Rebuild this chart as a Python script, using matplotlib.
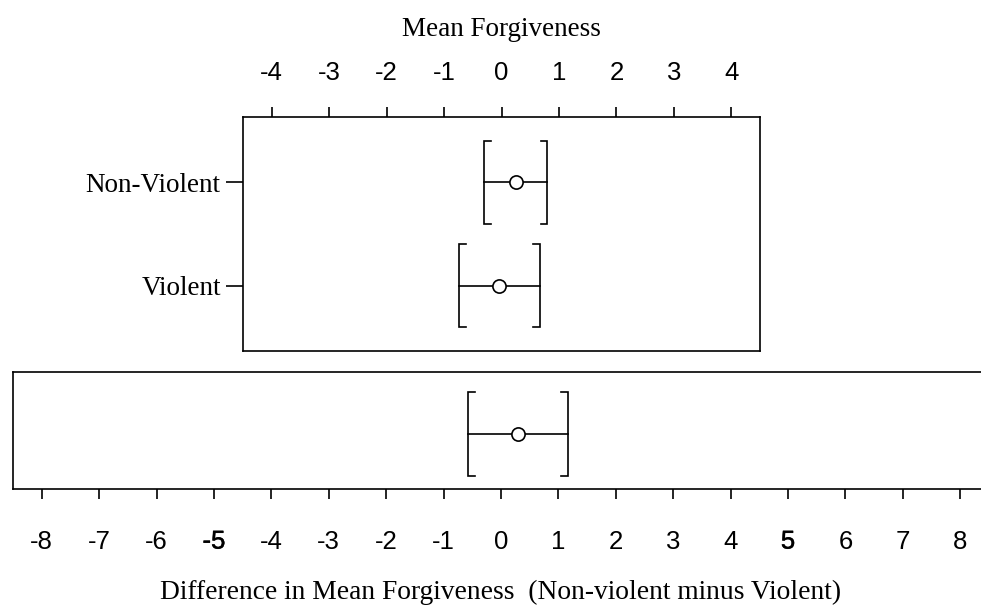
import matplotlib
matplotlib.use("Agg")
import matplotlib.pyplot as plt
import matplotlib.patheffects as pe
import numpy as np

plt.rcParams["axes.unicode_minus"] = False

# Group means with confidence intervals (Mean Forgiveness)
groups = ["Violent", "Non-Violent"]
group_mean = [-0.04, 0.245]
group_lo = [-0.74, -0.31]
group_hi = [0.67, 0.80]

# Difference (Non-violent minus Violent)
diff_mean = 0.29
diff_lo = -0.575
diff_hi = 1.16

top_ticks = list(range(-4, 5))
bottom_ticks = list(range(-8, 9))
bottom_long_ticks = [-5, 0, 5]

SERIF = ["Liberation Serif", "DejaVu Serif"]
SANS = ["Liberation Sans", "DejaVu Sans"]
LW = 1.2


def draw_interval(ax, y, mean, lo, hi, half, serif):
    ax.plot([lo, hi], [y, y], color="black", lw=LW, zorder=2)
    ax.plot([lo + serif, lo, lo, lo + serif], [y - half, y - half, y + half, y + half],
            color="black", lw=LW, solid_joinstyle="miter", zorder=2)
    ax.plot([hi - serif, hi, hi, hi - serif], [y - half, y - half, y + half, y + half],
            color="black", lw=LW, solid_joinstyle="miter", zorder=2)
    ax.plot([mean], [y], marker="o", ms=9.5, mfc="white", mec="black", mew=LW, zorder=3)


fig = plt.figure(figsize=(9.81, 6.09), dpi=100)

# ---- top panel: group means
ax_top = fig.add_axes([243 / 981, 1 - 351 / 609, (760 - 243) / 981, (351 - 117) / 609])
for i, g in enumerate(groups):
    draw_interval(ax_top, i + 1, group_mean[i], group_lo[i], group_hi[i], 0.40, 0.12)
ax_top.set_xlim(-4.5, 4.5)
ax_top.set_ylim(0.37, 2.63)
ax_top.xaxis.tick_top()
ax_top.xaxis.set_label_position("top")
ax_top.set_xticks(top_ticks)
ax_top.set_xticklabels([str(t) for t in top_ticks], family=SANS, fontsize=18.5)
ax_top.tick_params(axis="x", direction="out", length=7.2, width=LW, pad=16)
ax_top.set_yticks([1, 2])
ax_top.set_yticklabels(groups, family=SERIF, fontsize=19.5)
ax_top.tick_params(axis="y", direction="out", length=12, width=LW, pad=4)
ax_top.set_xlabel("Mean Forgiveness", family=SERIF, fontsize=19.5, labelpad=18)
for s in ax_top.spines.values():
    s.set_linewidth(LW)

# ---- bottom panel: difference
ax_bot = fig.add_axes([13 / 981, 1 - 489 / 609, (989 - 13) / 981, (489 - 372) / 609])
draw_interval(ax_bot, 1, diff_mean, diff_lo, diff_hi, 0.40, 0.12)
ax_bot.set_xlim(-8.5, 8.5)
ax_bot.set_ylim(0.476, 1.59)
ax_bot.set_yticks([])
ax_bot.set_xticks(bottom_ticks)
ax_bot.set_xticklabels([str(t) for t in bottom_ticks], family=SANS, fontsize=18.5)
ax_bot.set_xticks(bottom_long_ticks, minor=True)
ax_bot.tick_params(axis="x", which="major", direction="out", length=7.2, width=LW, pad=22)
ax_bot.tick_params(axis="x", which="minor", direction="out", length=12.2, width=LW)
for lab in ax_bot.get_xticklabels():
    if lab.get_text() in ("-5", "5"):
        lab.set_path_effects([pe.withStroke(linewidth=0.35, foreground="black")])
ax_bot.set_xlabel("Difference in Mean Forgiveness  (Non-violent minus Violent)",
                  family=SERIF, fontsize=19.8, labelpad=19)
for s in ax_bot.spines.values():
    s.set_linewidth(LW)

fig.savefig("out.png", dpi=100)
